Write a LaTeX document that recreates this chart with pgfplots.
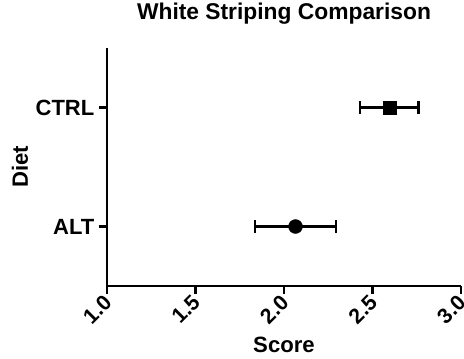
\documentclass[border=0pt]{standalone}
\usepackage{fontspec}
\setmainfont{Liberation Sans}
\usepackage{pgfplots}
\pgfplotsset{compat=1.18}
\begin{document}
\begin{tikzpicture}
\begin{axis}[
  scale only axis,
  width=265.5pt, height=178.5pt,
  xmin=1, xmax=3, ymin=0.5, ymax=2.5,
  axis x line=bottom, axis y line=left,
  axis line style={-, line width=1.6pt, black},
  xtick={1,1.5,2,2.5,3},
  ytick={1,2}, yticklabels={ALT,CTRL},
  tick align=outside,
  major tick length=6pt,
  tick style={line width=1.6pt, black},
  /pgf/number format/assume math mode=true,
  xticklabel style={/pgf/number format/.cd, fixed, fixed zerofill, precision=1, /tikz/.cd, rotate=45, anchor=east, yshift=-3pt, inner sep=2pt, font=\fontsize{16}{19}\selectfont\bfseries},
  yticklabel style={font=\fontsize{16.5}{19}\selectfont\bfseries},
  title={White Striping Comparison},
  title style={at={(0.5,1.0882)}, anchor=base, font=\fontsize{17.1}{20}\selectfont\bfseries},
  xlabel={Score},
  xlabel style={at={(0.5,-0.2773)}, anchor=base, font=\fontsize{16.6}{20}\selectfont\bfseries},
  ylabel={Diet},
  ylabel style={at={(-0.2232,0.5)}, anchor=base, rotate=0, font=\fontsize{16.6}{20}\selectfont\bfseries},
  clip=false,
]
\addplot[only marks, mark=square*, mark size=4.9pt, black,
  error bars/.cd, x dir=both, x explicit, error mark=|,
  error bar style={line width=1.8pt, black},
  error mark options={line width=1.8pt, mark size=4.9pt, black}]
  coordinates {(2.595,2) +- (0.165,0)};
\addplot[only marks, mark=*, mark size=5.2pt, black,
  error bars/.cd, x dir=both, x explicit, error mark=|,
  error bar style={line width=1.8pt, black},
  error mark options={line width=1.8pt, mark size=4.9pt, black}]
  coordinates {(2.065,1) +- (0.23,0)};
\end{axis}
\pgfresetboundingbox
\useasboundingbox (-80.25pt,-54pt) rectangle (267.75pt,214.5pt);
\end{tikzpicture}
\end{document}
